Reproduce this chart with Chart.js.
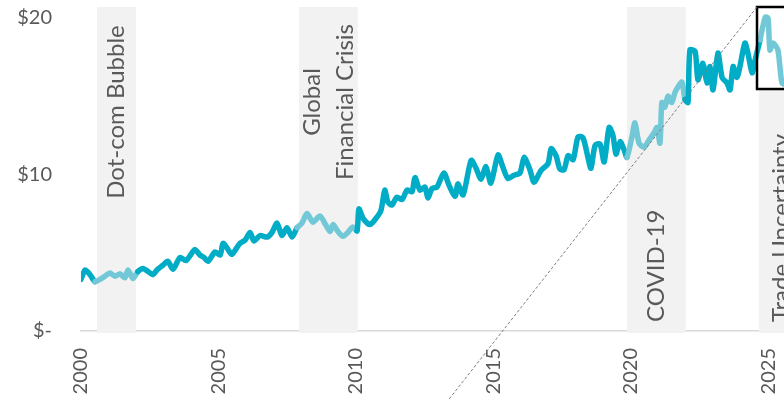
<!DOCTYPE html>
<html>
<head>
<meta charset="utf-8">
<script src="https://cdn.jsdelivr.net/npm/chart.js@4"></script>
<style>
  html, body { margin: 0; padding: 0; background: #ffffff; }
  #wrap { width: 784px; height: 399px; overflow: hidden; position: relative; }
  canvas { display: block; }
</style>
</head>
<body>
<div id="wrap"><canvas id="chart" width="837" height="399"></canvas></div>
<script>
// Series: value per share (USD), decimal-year dates
const dates = [
  2000.00, 2000.15, 2000.33, 2000.51, 2000.69, 2000.87, 2001.05, 2001.24, 2001.42, 2001.60,
  2001.71, 2001.89, 2002.07, 2002.26, 2002.44, 2002.62, 2002.76, 2002.98, 2003.16, 2003.35,
  2003.60, 2003.82, 2004.04, 2004.15, 2004.33, 2004.47, 2004.62, 2004.87, 2005.06, 2005.17,
  2005.35, 2005.49, 2005.78, 2005.97, 2006.15, 2006.29, 2006.51, 2006.77, 2006.95, 2007.13,
  2007.31, 2007.49, 2007.68, 2007.86, 2008.04, 2008.22, 2008.44, 2008.69, 2008.88, 2009.06,
  2009.17, 2009.35, 2009.53, 2009.71, 2009.89, 2010.04, 2010.11, 2010.26, 2010.51, 2010.73,
  2010.91, 2011.05, 2011.16, 2011.31, 2011.49, 2011.68, 2011.86, 2012.04, 2012.15, 2012.33,
  2012.51, 2012.62, 2012.77, 2012.95, 2013.20, 2013.39, 2013.61, 2013.71, 2013.90, 2014.19,
  2014.37, 2014.55, 2014.73, 2014.91, 2015.17, 2015.35, 2015.53, 2015.75, 2015.97, 2016.12,
  2016.33, 2016.48, 2016.73, 2016.99, 2017.10, 2017.28, 2017.42, 2017.57, 2017.72, 2017.90,
  2018.08, 2018.26, 2018.44, 2018.55, 2018.70, 2018.88, 2019.03, 2019.21, 2019.35, 2019.46,
  2019.61, 2019.75, 2019.86, 2020.04, 2020.15, 2020.30, 2020.48, 2020.66, 2020.84, 2020.95,
  2021.06, 2021.13, 2021.24, 2021.35, 2021.49, 2021.60, 2021.72, 2021.86, 2021.97, 2022.08,
  2022.15, 2022.34, 2022.44, 2022.62, 2022.77, 2022.88, 2022.99, 2023.17, 2023.32, 2023.50,
  2023.61, 2023.72, 2023.86, 2023.97, 2024.15, 2024.26, 2024.41, 2024.52, 2024.70, 2024.89,
  2024.99, 2025.06, 2025.17, 2025.35, 2025.50, 2025.68
];
const values = [
  3.30, 3.90, 3.60, 3.15, 3.30, 3.50, 3.70, 3.50, 3.65, 3.40,
  3.90, 3.35, 3.80, 4.00, 3.80, 3.60, 3.90, 4.20, 4.45, 3.95,
  4.70, 4.50, 5.00, 5.20, 4.85, 4.70, 4.45, 5.05, 4.85, 5.60,
  5.20, 4.90, 5.60, 5.80, 6.30, 5.75, 6.10, 6.00, 6.30, 6.90,
  6.10, 6.60, 6.00, 6.60, 6.90, 7.50, 6.95, 7.35, 6.85, 6.35,
  6.80, 6.35, 6.05, 6.30, 6.65, 6.40, 7.80, 7.20, 6.80, 7.20,
  7.70, 9.00, 8.25, 8.05, 8.55, 8.40, 9.00, 8.90, 9.80, 9.00,
  9.20, 8.50, 9.10, 9.20, 10.10, 9.30, 8.60, 9.40, 8.70, 10.90,
  10.40, 9.70, 10.50, 9.45, 11.25, 10.45, 9.75, 9.95, 10.10, 11.10,
  10.30, 9.50, 10.25, 10.70, 11.65, 11.20, 10.35, 10.30, 11.20, 10.95,
  12.40, 12.35, 11.10, 10.40, 11.85, 11.95, 10.80, 13.00, 12.50, 11.30,
  12.10, 11.60, 11.10, 12.40, 13.30, 12.00, 11.75, 12.20, 12.65, 13.00,
  12.00, 14.60, 14.30, 15.00, 14.60, 15.20, 15.60, 15.90, 14.80, 14.60,
  17.95, 17.85, 16.05, 17.10, 15.85, 16.90, 15.40, 17.75, 16.20, 15.85,
  15.40, 16.90, 16.20, 16.90, 18.40, 17.75, 16.50, 17.30, 18.60, 20.05,
  20.00, 17.95, 18.40, 17.95, 15.85, 15.70
];

// Stress periods: start / end (decimal years) and their captions
const periodStart = [2000.58, 2007.93, 2019.86, 2024.66];
const periodEnd   = [2002.00, 2010.07, 2022.00, 2026.26];
const periodText  = [["Dot-com Bubble"], ["Global", "Financial Crisis"], ["COVID-19"], ["Trade Uncertainty"]];

// Axis ticks
const yearTicks = [2000, 2005, 2010, 2015, 2020, 2025];
const priceTicks = [0, 10, 20];

// Detail box around the latest period, and its leader line
const boxYears = [2024.59, 2026.6];
const boxValues = [15.46, 20.7];
const leaderYears = [2013.06, 2024.59];
const leaderValues = [-5.09, 20.7];

const DARK = '#00ACC6';
const LIGHT = '#72C8D6';
const TEXT = '#595959';

function inPeriod(x) {
  for (let i = 0; i < periodStart.length; i++) {
    if (x >= periodStart[i] && x <= periodEnd[i]) return true;
  }
  return false;
}

const backdrop = {
  id: 'backdrop',
  beforeDatasetsDraw(chart) {
    const { ctx, chartArea, scales: { x, y } } = chart;
    ctx.save();
    // shaded periods
    ctx.fillStyle = '#F2F2F2';
    for (let i = 0; i < periodStart.length; i++) {
      const x0 = x.getPixelForValue(periodStart[i]);
      const x1 = x.getPixelForValue(periodEnd[i]);
      ctx.fillRect(x0, chartArea.top, x1 - x0, chartArea.bottom - chartArea.top + 2);
    }
    // captions, rotated to read upwards
    ctx.fillStyle = TEXT;
    ctx.font = '24px Lato';
    ctx.textBaseline = 'middle';
    const lineGap = 33;
    periodText.forEach((lines, i) => {
      const cx = (x.getPixelForValue(periodStart[i]) + x.getPixelForValue(periodEnd[i])) / 2;
      let anchorY, align;
      if (i === 0) { anchorY = chartArea.top + 105; align = 'center'; }
      else if (i === 1) { anchorY = chartArea.top + 95; align = 'center'; }
      else { anchorY = chartArea.bottom - 9; align = 'left'; }
      ctx.textAlign = align;
      lines.forEach((t, k) => {
        const off = (k - (lines.length - 1) / 2) * lineGap;
        ctx.save();
        ctx.translate(cx + off, anchorY);
        ctx.rotate(-Math.PI / 2);
        ctx.fillText(t, 0, 0);
        ctx.restore();
      });
    });
    // detail box background
    const bx0 = x.getPixelForValue(boxYears[0]);
    const bx1 = x.getPixelForValue(boxYears[1]);
    const by0 = y.getPixelForValue(boxValues[1]);
    const by1 = y.getPixelForValue(boxValues[0]);
    ctx.fillStyle = '#ffffff';
    ctx.fillRect(bx0, by0, bx1 - bx0, by1 - by0);
    ctx.restore();
  },
  afterDatasetsDraw(chart) {
    const { ctx, scales: { x, y } } = chart;
    ctx.save();
    const bx0 = x.getPixelForValue(boxYears[0]);
    const bx1 = x.getPixelForValue(boxYears[1]);
    const by0 = y.getPixelForValue(boxValues[1]);
    const by1 = y.getPixelForValue(boxValues[0]);
    ctx.strokeStyle = '#000000';
    ctx.lineWidth = 2.5;
    ctx.strokeRect(bx0, by0, bx1 - bx0, by1 - by0);
    // dashed leader line
    ctx.strokeStyle = '#7F7F7F';
    ctx.lineWidth = 1;
    ctx.setLineDash([3, 2]);
    ctx.beginPath();
    ctx.moveTo(x.getPixelForValue(leaderYears[0]), y.getPixelForValue(leaderValues[0]));
    ctx.lineTo(x.getPixelForValue(leaderYears[1]), y.getPixelForValue(leaderValues[1]));
    ctx.stroke();
    ctx.restore();
  }
};

new Chart(document.getElementById('chart'), {
  type: 'line',
  data: {
    datasets: [{
      data: dates.map((d, i) => ({ x: d, y: values[i] })),
      borderColor: DARK,
      borderWidth: 5.5,
      pointRadius: 0,
      tension: 0.25,
      borderJoinStyle: 'round',
      borderCapStyle: 'round',
      segment: {
        borderColor: c => inPeriod((c.p0.parsed.x + c.p1.parsed.x) / 2) ? LIGHT : DARK
      }
    }]
  },
  options: {
    responsive: false,
    animation: false,
    devicePixelRatio: 1,
    layout: { padding: { top: 7, right: 0, left: 0, bottom: 0 } },
    plugins: { legend: { display: false }, tooltip: { enabled: false } },
    scales: {
      x: {
        type: 'linear',
        min: 2000,
        max: 2027.5,
        afterBuildTicks: s => { s.ticks = yearTicks.map(v => ({ value: v })); },
        afterFit: s => { s.height = 68; },
        ticks: {
          minRotation: 90,
          maxRotation: 90,
          padding: 17,
          color: TEXT,
          font: { family: 'Lato', size: 20 },
          callback: v => String(v)
        },
        grid: { display: false, drawTicks: false },
        border: { display: true, color: '#D9D9D9', width: 1.5 }
      },
      y: {
        min: 0,
        max: 20.7,
        afterBuildTicks: s => { s.ticks = priceTicks.map(v => ({ value: v })); },
        afterFit: s => { s.width = 81; s.paddingTop = 0; s.paddingBottom = 0; },
        ticks: {
          padding: 29,
          color: TEXT,
          font: { family: 'Lato', size: 20 },
          callback: v => v === 0 ? '$-' : '$' + v
        },
        grid: { display: false, drawTicks: false },
        border: { display: false }
      }
    }
  },
  plugins: [backdrop]
});
</script>
</body>
</html>
